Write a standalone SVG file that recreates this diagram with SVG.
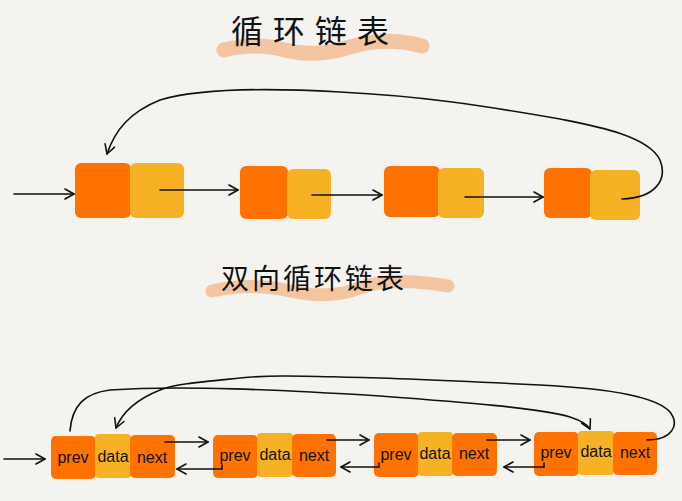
<svg xmlns="http://www.w3.org/2000/svg" width="682" height="501" viewBox="0 0 682 501">
<defs>
<marker id="ah" viewBox="0 0 12 12" refX="10" refY="6" markerWidth="12" markerHeight="12" markerUnits="userSpaceOnUse" orient="auto">
<path d="M1,1 L10,6 L1,11" fill="none" stroke="#111" stroke-width="1.6" stroke-linecap="round" stroke-linejoin="round"/>
</marker>
</defs>
<style>
.bg{fill:#f4f3ef}
.o{fill:#ff7200}
.y{fill:#f6b124}
.c{fill:none;stroke:#111;stroke-width:1.6;stroke-linecap:round}
.a{marker-end:url(#ah)}
.t{font-family:"Liberation Sans",sans-serif;font-size:16px;fill:#111;text-anchor:middle}
.h{font-family:"Noto Sans CJK SC",sans-serif;fill:#111;text-anchor:middle}
.b{fill:none;stroke:#f3a060;stroke-linecap:round;opacity:0.55}
</style>
<rect class="bg" width="682" height="501"/>
<g id="title1">
<path class="b" d="M224,50 Q255,42 285,50 T350,47 T422,46" stroke-width="15"/>
<text class="h" x="315" y="43" font-size="32" letter-spacing="10">循环链表</text>
</g>
<g id="title2">
<path class="b" d="M212,291 Q250,282 290,291 T360,288 T448,286" stroke-width="13"/>
<text class="h" x="314" y="289" font-size="28" letter-spacing="3">双向循环链表</text>
</g>
<g id="n1">
<rect class="o" x="75" y="163" width="56" height="55" rx="6"/>
<rect class="y" x="130" y="163" width="54" height="55" rx="6"/>
</g>
<g id="n2">
<rect class="o" x="240" y="166" width="48" height="53" rx="6"/>
<rect class="y" x="287" y="169" width="44" height="50" rx="6"/>
</g>
<g id="n3">
<rect class="o" x="384" y="166" width="56" height="51" rx="6"/>
<rect class="y" x="438" y="168" width="46" height="50" rx="6"/>
</g>
<g id="n4">
<rect class="o" x="544" y="168" width="48" height="50" rx="6"/>
<rect class="y" x="590" y="170" width="50" height="50" rx="6"/>
</g>
<g id="d1">
<rect class="o" x="51" y="436" width="45" height="43" rx="5"/>
<rect class="y" x="95" y="434" width="36" height="44" rx="4"/>
<rect class="o" x="130" y="435" width="45" height="43" rx="5"/>
<text class="t" x="73" y="463">prev</text>
<text class="t" x="113" y="462">data</text>
<text class="t" x="152" y="463">next</text>
</g>
<g id="d2">
<rect class="o" x="213" y="435" width="45" height="43" rx="5"/>
<rect class="y" x="257" y="433" width="36" height="44" rx="4"/>
<rect class="o" x="292" y="434" width="44" height="43" rx="5"/>
<text class="t" x="235" y="461">prev</text>
<text class="t" x="275" y="460">data</text>
<text class="t" x="314" y="461">next</text>
</g>
<g id="d3">
<rect class="o" x="374" y="433" width="45" height="44" rx="5"/>
<rect class="y" x="418" y="432" width="35" height="44" rx="4"/>
<rect class="o" x="452" y="433" width="45" height="43" rx="5"/>
<text class="t" x="396" y="460">prev</text>
<text class="t" x="435" y="459">data</text>
<text class="t" x="474" y="459">next</text>
</g>
<g id="d4">
<rect class="o" x="534" y="432" width="45" height="44" rx="5"/>
<rect class="y" x="578" y="431" width="36" height="44" rx="4"/>
<rect class="o" x="613" y="432" width="44" height="43" rx="5"/>
<text class="t" x="556" y="458">prev</text>
<text class="t" x="596" y="457">data</text>
<text class="t" x="635" y="458">next</text>
</g>
<g id="connectors">
<path class="c a" d="M14,194 L74,194"/>
<path class="c a" d="M160,190 L238,190"/>
<path class="c a" d="M312,195 L382,195"/>
<path class="c a" d="M465,197 L543,197"/>
<path class="c a" d="M622,199 C655,198 668,180 660,160 C648,135 590,125 560,119 C480,105 420,96 340,92 C270,88 200,88 160,100 C130,112 115,130 107,154"/>
<path class="c a" d="M4,459 L45,459"/>
<path class="c a" d="M165,442 L208,442"/>
<path class="c a" d="M327,440 L369,440"/>
<path class="c a" d="M487,440 L530,440"/>
<path class="c" d="M222,465 L222,469"/>
<path class="c a" d="M222,469 L177,469"/>
<path class="c" d="M379,463 L379,467"/>
<path class="c a" d="M379,467 L341,467"/>
<path class="c" d="M544,463 L544,467"/>
<path class="c a" d="M544,467 L504,467"/>
<path class="c a" d="M70,431 C72,405 85,393 110,390 C180,385 280,390 380,396 C460,402 540,408 570,417 C582,421 588,425 590,429"/>
<path class="c a" d="M647,440 C672,440 680,425 670,412 C655,395 600,388 540,385 C460,381 400,378 340,377 C300,376 270,375 240,378 C200,382 175,384 160,390 C135,400 122,413 116,428"/>
</g>
</svg>
